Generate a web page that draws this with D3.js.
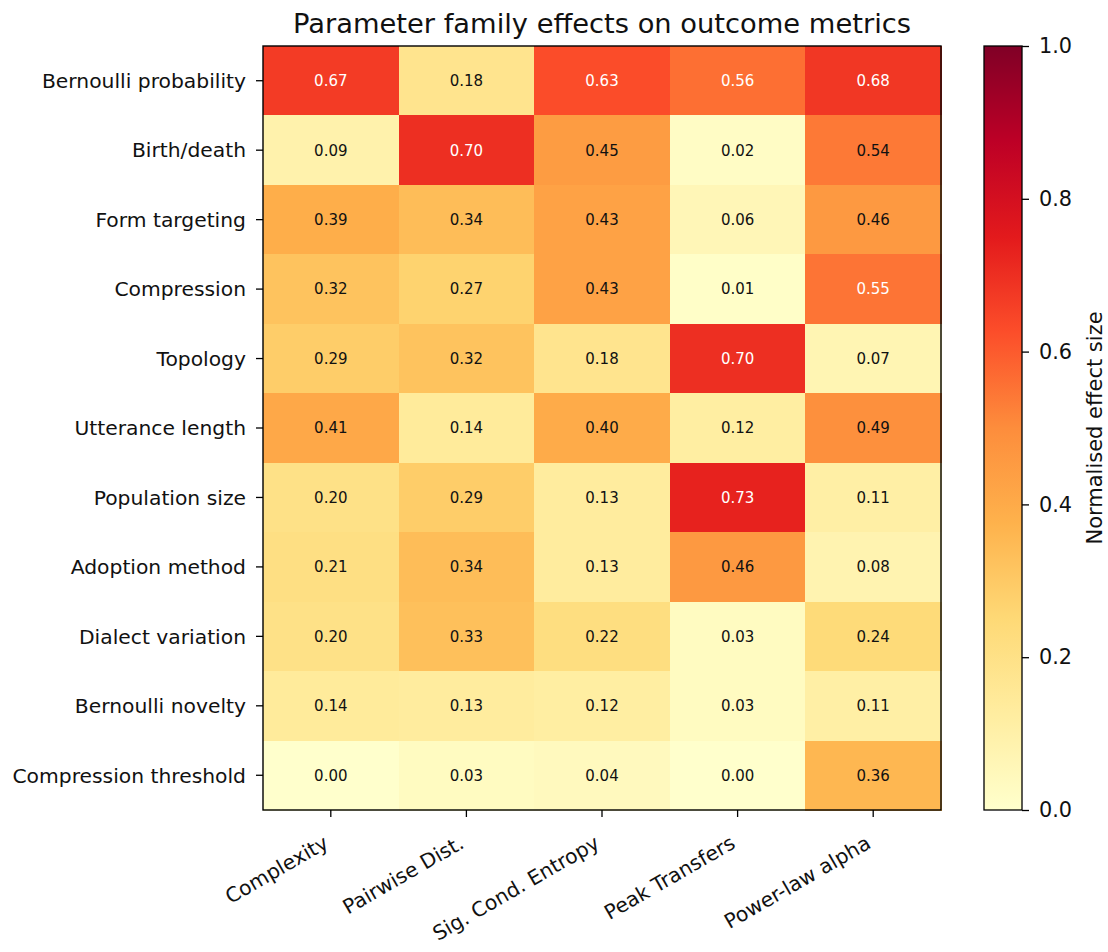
<!DOCTYPE html>
<html><head><meta charset="utf-8">
<script src="https://cdn.jsdelivr.net/npm/d3@7"></script>
<style>body{margin:0;background:#fff}svg{font-family:"DejaVu Sans",sans-serif}</style>
</head><body><svg id="c" width="1108" height="952"></svg>
<script>
const rows = ["Bernoulli probability","Birth/death","Form targeting","Compression","Topology","Utterance length","Population size","Adoption method","Dialect variation","Bernoulli novelty","Compression threshold"];
const cols = ["Complexity","Pairwise Dist.","Sig. Cond. Entropy","Peak Transfers","Power-law alpha"];
const values = [
 [0.67,0.18,0.63,0.56,0.68],
 [0.09,0.70,0.45,0.02,0.54],
 [0.39,0.34,0.43,0.06,0.46],
 [0.32,0.27,0.43,0.01,0.55],
 [0.29,0.32,0.18,0.70,0.07],
 [0.41,0.14,0.40,0.12,0.49],
 [0.20,0.29,0.13,0.73,0.11],
 [0.21,0.34,0.13,0.46,0.08],
 [0.20,0.33,0.22,0.03,0.24],
 [0.14,0.13,0.12,0.03,0.11],
 [0.00,0.03,0.04,0.00,0.36]
];
const cbTicks = [0,0.2,0.4,0.6,0.8,1.0];
const title = "Parameter family effects on outcome metrics";
const cbLabel = "Normalised effect size";
const ylorrd = ["#ffffcc","#ffeda0","#fed976","#feb24c","#fd8d3c","#fc4e2a","#e31a1c","#bd0026","#800026"];

const svg = d3.select("#c");
const L=263, R=941, T=46, B=810;
const x = d3.scaleBand().domain(cols).range([L,R]);
const y = d3.scaleBand().domain(rows).range([T,B]);
const color = d3.scaleLinear().domain(d3.range(9).map(i=>i/8)).range(ylorrd).interpolate(d3.interpolateRgb).clamp(true);

const cells = [];
values.forEach((r,i)=>r.forEach((v,j)=>cells.push({r:rows[i],c:cols[j],v})));
svg.append("g").selectAll("rect").data(cells).join("rect")
  .attr("x",d=>x(d.c)).attr("y",d=>y(d.r))
  .attr("width",x.bandwidth()+0.5).attr("height",y.bandwidth()+0.5)
  .attr("fill",d=>color(d.v)).attr("shape-rendering","crispEdges");
svg.append("g").selectAll("text").data(cells).join("text")
  .attr("x",d=>x(d.c)+x.bandwidth()/2).attr("y",d=>y(d.r)+y.bandwidth()/2)
  .attr("text-anchor","middle").attr("dy","0.36em")
  .attr("font-size",15).attr("fill",d=>d.v>0.545?"#fff":"#111")
  .text(d=>d.v.toFixed(2));
svg.append("rect").attr("x",L).attr("y",T).attr("width",R-L).attr("height",B-T)
  .attr("fill","none").attr("stroke","#000").attr("stroke-width",1.4);

// y axis
const ya = svg.append("g").attr("transform",`translate(${L},0)`)
  .call(d3.axisLeft(y).tickSize(7).tickPadding(10));
ya.select(".domain").remove();
ya.selectAll("text").attr("font-size",20.3).attr("fill","#111").attr("font-family","DejaVu Sans").attr("dy","0.36em");
ya.selectAll("line").attr("stroke","#000").attr("stroke-width",1.3);

// x axis
const xa = svg.append("g").attr("transform",`translate(0,${B})`)
  .call(d3.axisBottom(x).tickSize(7));
xa.select(".domain").remove();
xa.selectAll("line").attr("stroke","#000").attr("stroke-width",1.3);
xa.selectAll("text").attr("font-size",20.3).attr("fill","#111").attr("font-family","DejaVu Sans")
  .attr("text-anchor","end").attr("y",0).attr("dy",null)
  .attr("transform","translate(-1,37) rotate(-30)");

// title
svg.append("text").attr("x",(L+R)/2).attr("y",33).attr("text-anchor","middle")
  .attr("font-size",27.3).attr("fill","#111").text(title);

// colorbar
const CL=984, CR=1022;
const grad = svg.append("defs").append("linearGradient").attr("id","g")
  .attr("x1",0).attr("y1",1).attr("x2",0).attr("y2",0);
ylorrd.forEach((c,i)=>grad.append("stop").attr("offset",i/8).attr("stop-color",c));
svg.append("rect").attr("x",CL).attr("y",T).attr("width",CR-CL).attr("height",B-T)
  .attr("fill","url(#g)").attr("stroke","#000").attr("stroke-width",1.3);
const cy = d3.scaleLinear().domain([0,1]).range([B,T]);
const ca = svg.append("g").attr("transform",`translate(${CR},0)`)
  .call(d3.axisRight(cy).tickValues(cbTicks).tickFormat(d3.format(".1f")).tickSize(7).tickPadding(10));
ca.select(".domain").remove();
ca.selectAll("line").attr("stroke","#000").attr("stroke-width",1.3);
ca.selectAll("text").attr("font-size",20.8).attr("fill","#111").attr("font-family","DejaVu Sans");
svg.append("text").attr("transform",`translate(1102,${(T+B)/2}) rotate(-90)`)
  .attr("text-anchor","middle").attr("font-size",21).attr("fill","#111").text(cbLabel);
</script></body></html>
